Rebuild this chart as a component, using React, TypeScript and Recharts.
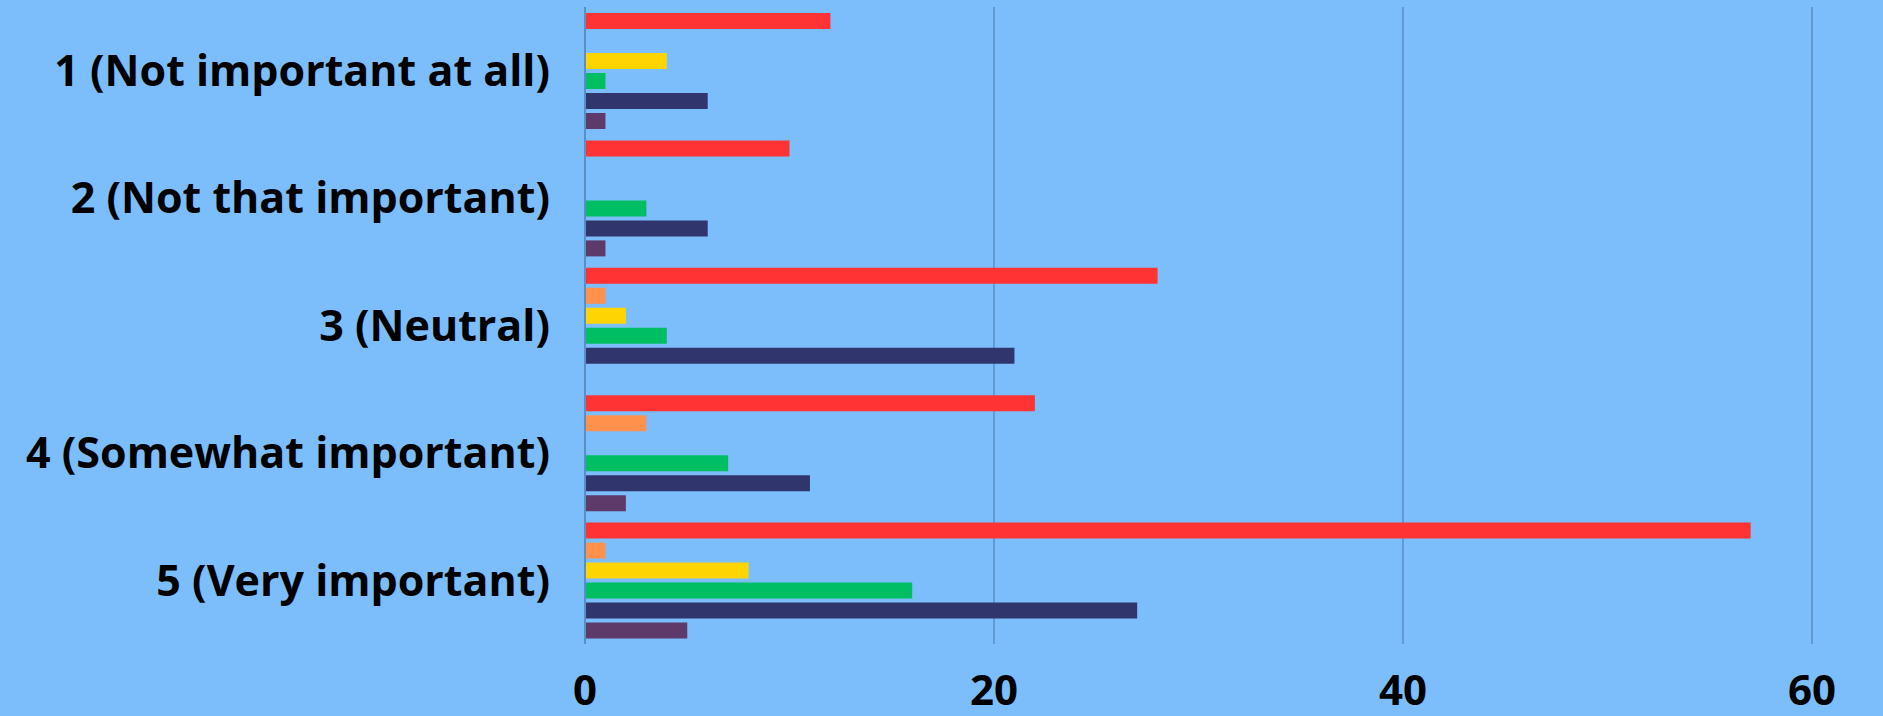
import React from "react";
import { BarChart, Bar, XAxis, YAxis, CartesianGrid } from "recharts";

const categories = [
  "1 (Not important at all)",
  "2 (Not that important)",
  "3 (Neutral)",
  "4 (Somewhat important)",
  "5 (Very important)",
];
const seriesRed = [12, 10, 28, 22, 57];
const seriesOrange = [0, 0, 1, 3, 1];
const seriesYellow = [4, 0, 2, 0, 8];
const seriesGreen = [1, 3, 4, 7, 16];
const seriesNavy = [6, 6, 21, 11, 27];
const seriesPurple = [1, 1, 0, 2, 5];
const xTicks = [0, 20, 40, 60];

const seriesKeys = ["red", "orange", "yellow", "green", "navy", "purple"];
const seriesColors = ["#FF3334", "#FF914D", "#FFD500", "#00BF63", "#30356E", "#5E3A6B"];
const seriesValues = [seriesRed, seriesOrange, seriesYellow, seriesGreen, seriesNavy, seriesPurple];

const data = categories.map((name, i) => {
  const row: Record<string, string | number> = { name };
  seriesKeys.forEach((k, j) => {
    row[k] = seriesValues[j][i];
  });
  return row;
});

const FONT = "'Open Sans', Lato, sans-serif";

export default function App() {
  return (
    <div
      style={{
        position: "absolute",
        left: 0,
        top: 0,
        width: 1883,
        height: 716,
        background: "#7BBEFB",
      }}
    >
      <BarChart
        width={1883}
        height={716}
        data={data}
        layout="vertical"
        margin={{ top: 7, right: 71, bottom: 0, left: 0 }}
        barSize={16}
        barGap={4}
      >
        <CartesianGrid horizontal={false} vertical={true} stroke="#5B8EC4" strokeWidth={1.5} />
        <XAxis
          type="number"
          domain={[0, 60]}
          ticks={xTicks}
          axisLine={false}
          tickLine={false}
          tickSize={0}
          tickMargin={31}
          height={72}
          tick={{ fill: "#000", fontSize: 42, fontWeight: 700, fontFamily: FONT }}
        />
        <YAxis
          type="category"
          dataKey="name"
          width={585}
          axisLine={{ stroke: "#5B8EC4", strokeWidth: 2 }}
          tickLine={false}
          tickSize={0}
          tickMargin={35}
          interval={0}
          tick={{ fill: "#000", fontSize: 43, fontWeight: 700, fontFamily: FONT }}
        />
        {seriesKeys.map((k, j) => (
          <Bar key={k} dataKey={k} fill={seriesColors[j]} isAnimationActive={false} />
        ))}
      </BarChart>
    </div>
  );
}
